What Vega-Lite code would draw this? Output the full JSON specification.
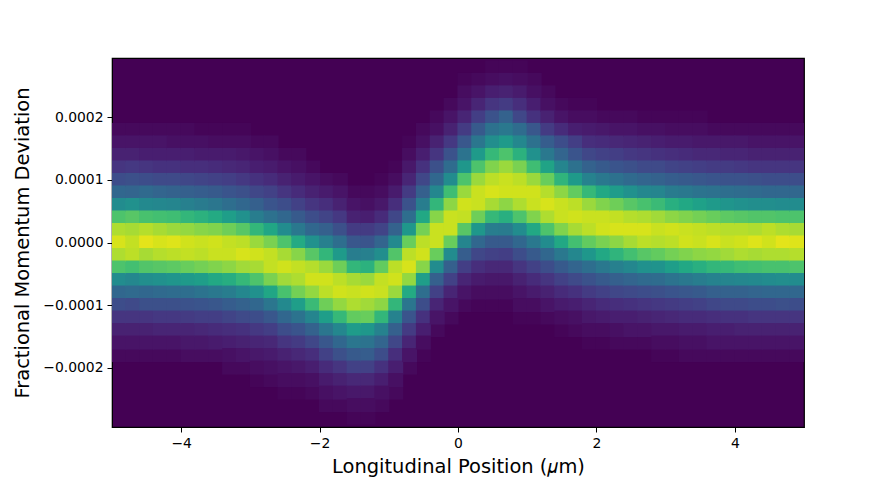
{"$schema":"https://vega.github.io/schema/vega-lite/v6.json","width":692,"height":369,"autosize":"none","padding":{"left":112,"top":58,"right":89,"bottom":53},"background":"white","config":{"view":{"fill":"#440154","stroke":"#000","strokeWidth":1.2},"font":"DejaVu Sans"},"data":{"values":[
{"x":-4.9,"y":1.8e-4,"c":2},{"x":-4.9,"y":-1.8e-4,"c":2},{"x":-4.7,"y":1.8e-4,"c":2},{"x":-4.7,"y":-1.8e-4,"c":2},{"x":-4.5,"y":1.8e-4,"c":2},{"x":-4.5,"y":-1.8e-4,"c":2},{"x":-4.3,"y":1.8e-4,"c":2},{"x":-4.3,"y":-1.8e-4,"c":2},{"x":-4.1,"y":1.8e-4,"c":2},{"x":-4.1,"y":-1.8e-4,"c":2},{"x":-3.9,"y":1.8e-4,"c":2},{"x":-3.9,"y":-1.8e-4,"c":3},{"x":-3.7,"y":1.8e-4,"c":1},{"x":-3.7,"y":-1.8e-4,"c":3},{"x":-3.5,"y":1.8e-4,"c":1},{"x":-3.5,"y":-1.8e-4,"c":3},{"x":-3.3,"y":1.8e-4,"c":1},{"x":-3.3,"y":-2e-4,"c":2},{"x":-3.1,"y":-2e-4,"c":2},{"x":-3.1,"y":1.8e-4,"c":1},{"x":-2.9,"y":1.6e-4,"c":2},{"x":-2.9,"y":-2.2e-4,"c":1},{"x":-2.7,"y":1.6e-4,"c":2},{"x":-2.7,"y":-2.2e-4,"c":2},{"x":-2.5,"y":1.4e-4,"c":2},{"x":-2.5,"y":-2.4e-4,"c":1},{"x":-2.3,"y":1.4e-4,"c":2},{"x":-2.3,"y":-2.4e-4,"c":1},{"x":-2.1,"y":1.2e-4,"c":2},{"x":-2.1,"y":-2.4e-4,"c":2},{"x":-1.9,"y":1e-4,"c":3},{"x":-1.9,"y":-2.6e-4,"c":2},{"x":-1.7,"y":1e-4,"c":2},{"x":-1.7,"y":-2.6e-4,"c":2},{"x":-1.5,"y":8e-5,"c":2},{"x":-1.5,"y":-2.8e-4,"c":1},{"x":-1.3,"y":8e-5,"c":2},{"x":-1.3,"y":-2.8e-4,"c":1},{"x":-1.1,"y":1e-4,"c":1},{"x":-1.1,"y":-2.6e-4,"c":2},{"x":-0.9,"y":1.2e-4,"c":1},{"x":-0.9,"y":-2.4e-4,"c":2},{"x":-0.7,"y":1.6e-4,"c":1},{"x":-0.7,"y":-2e-4,"c":2},{"x":-0.5,"y":1.8e-4,"c":2},{"x":-0.5,"y":-1.8e-4,"c":1},{"x":-0.3,"y":2e-4,"c":2},{"x":-0.3,"y":-1.4e-4,"c":2},{"x":-0.1,"y":2.2e-4,"c":2},{"x":-0.1,"y":-1.2e-4,"c":2},{"x":0.1,"y":2.6e-4,"c":1},{"x":0.1,"y":-1e-4,"c":2},{"x":0.3,"y":2.6e-4,"c":2},{"x":0.3,"y":-1e-4,"c":1},{"x":0.5,"y":2.8e-4,"c":1},{"x":0.5,"y":-1e-4,"c":1},{"x":0.7,"y":2.8e-4,"c":1},{"x":0.7,"y":-1e-4,"c":1},{"x":0.9,"y":2.8e-4,"c":1},{"x":0.9,"y":-1.2e-4,"c":1},{"x":1.1,"y":2.6e-4,"c":2},{"x":1.1,"y":-1.2e-4,"c":1},{"x":1.3,"y":2.4e-4,"c":2},{"x":1.3,"y":-1.2e-4,"c":2},{"x":1.5,"y":2.2e-4,"c":2},{"x":1.5,"y":-1.4e-4,"c":1},{"x":1.7,"y":2.2e-4,"c":1},{"x":1.7,"y":-1.4e-4,"c":2},{"x":1.9,"y":2.2e-4,"c":1},{"x":1.9,"y":-1.6e-4,"c":1},{"x":2.1,"y":2e-4,"c":2},{"x":2.1,"y":-1.6e-4,"c":1},{"x":2.3,"y":2e-4,"c":2},{"x":2.3,"y":-1.6e-4,"c":2},{"x":2.5,"y":2e-4,"c":2},{"x":2.5,"y":-1.6e-4,"c":2},{"x":2.7,"y":2e-4,"c":1},{"x":2.7,"y":-1.6e-4,"c":2},{"x":2.9,"y":2e-4,"c":1},{"x":2.9,"y":-1.8e-4,"c":1},{"x":3.1,"y":2e-4,"c":1},{"x":3.1,"y":-1.8e-4,"c":1},{"x":3.3,"y":2e-4,"c":1},{"x":3.3,"y":-1.8e-4,"c":2},{"x":3.5,"y":2e-4,"c":1},{"x":3.5,"y":-1.8e-4,"c":2},{"x":3.7,"y":1.8e-4,"c":2},{"x":3.7,"y":-1.8e-4,"c":2},{"x":3.9,"y":1.8e-4,"c":2},{"x":3.9,"y":-1.8e-4,"c":2},{"x":4.1,"y":1.8e-4,"c":2},{"x":4.1,"y":-1.8e-4,"c":2},{"x":4.3,"y":1.8e-4,"c":2},{"x":4.3,"y":-1.8e-4,"c":2},{"x":4.5,"y":1.8e-4,"c":2},{"x":4.5,"y":-1.8e-4,"c":2},{"x":4.7,"y":1.8e-4,"c":2},{"x":4.7,"y":-1.8e-4,"c":2},{"x":4.9,"y":1.8e-4,"c":2},{"x":4.9,"y":-1.8e-4,"c":2},
{"x":-4.9,"y":1.6e-4,"c":5},{"x":-4.9,"y":1.4e-4,"c":9},{"x":-4.9,"y":1.2e-4,"c":15},{"x":-4.9,"y":1e-4,"c":23},{"x":-4.9,"y":8e-5,"c":33},{"x":-4.9,"y":6e-5,"c":48},{"x":-4.9,"y":4e-5,"c":72},{"x":-4.9,"y":2e-5,"c":88},{"x":-4.9,"y":0,"c":94},{"x":-4.9,"y":-2e-5,"c":88},{"x":-4.9,"y":-4e-5,"c":72},{"x":-4.9,"y":-6e-5,"c":48},{"x":-4.9,"y":-8e-5,"c":33},{"x":-4.9,"y":-1e-4,"c":23},{"x":-4.9,"y":-1.2e-4,"c":15},{"x":-4.9,"y":-1.4e-4,"c":9},{"x":-4.9,"y":-1.6e-4,"c":5},
{"x":-4.7,"y":1.6e-4,"c":5},{"x":-4.7,"y":1.4e-4,"c":9},{"x":-4.7,"y":1.2e-4,"c":16},{"x":-4.7,"y":1e-4,"c":24},{"x":-4.7,"y":8e-5,"c":32},{"x":-4.7,"y":6e-5,"c":50},{"x":-4.7,"y":4e-5,"c":74},{"x":-4.7,"y":2e-5,"c":87},{"x":-4.7,"y":0,"c":91},{"x":-4.7,"y":-2e-5,"c":90},{"x":-4.7,"y":-4e-5,"c":70},{"x":-4.7,"y":-6e-5,"c":46},{"x":-4.7,"y":-8e-5,"c":34},{"x":-4.7,"y":-1e-4,"c":22},{"x":-4.7,"y":-1.2e-4,"c":15},{"x":-4.7,"y":-1.4e-4,"c":9},{"x":-4.7,"y":-1.6e-4,"c":5},
{"x":-4.5,"y":1.6e-4,"c":5},{"x":-4.5,"y":1.4e-4,"c":8},{"x":-4.5,"y":1.2e-4,"c":15},{"x":-4.5,"y":1e-4,"c":23},{"x":-4.5,"y":8e-5,"c":34},{"x":-4.5,"y":6e-5,"c":47},{"x":-4.5,"y":4e-5,"c":71},{"x":-4.5,"y":2e-5,"c":89},{"x":-4.5,"y":0,"c":96},{"x":-4.5,"y":-2e-5,"c":87},{"x":-4.5,"y":-4e-5,"c":73},{"x":-4.5,"y":-6e-5,"c":49},{"x":-4.5,"y":-8e-5,"c":33},{"x":-4.5,"y":-1e-4,"c":24},{"x":-4.5,"y":-1.2e-4,"c":15},{"x":-4.5,"y":-1.4e-4,"c":9},{"x":-4.5,"y":-1.6e-4,"c":5},
{"x":-4.3,"y":1.6e-4,"c":5},{"x":-4.3,"y":1.4e-4,"c":8},{"x":-4.3,"y":1.2e-4,"c":14},{"x":-4.3,"y":1e-4,"c":22},{"x":-4.3,"y":8e-5,"c":32},{"x":-4.3,"y":6e-5,"c":46},{"x":-4.3,"y":4e-5,"c":70},{"x":-4.3,"y":2e-5,"c":87},{"x":-4.3,"y":0,"c":94},{"x":-4.3,"y":-2e-5,"c":89},{"x":-4.3,"y":-4e-5,"c":74},{"x":-4.3,"y":-6e-5,"c":50},{"x":-4.3,"y":-8e-5,"c":34},{"x":-4.3,"y":-1e-4,"c":24},{"x":-4.3,"y":-1.2e-4,"c":16},{"x":-4.3,"y":-1.4e-4,"c":10},{"x":-4.3,"y":-1.6e-4,"c":5},
{"x":-4.1,"y":1.6e-4,"c":4},{"x":-4.1,"y":1.4e-4,"c":8},{"x":-4.1,"y":1.2e-4,"c":14},{"x":-4.1,"y":1e-4,"c":22},{"x":-4.1,"y":8e-5,"c":31},{"x":-4.1,"y":6e-5,"c":45},{"x":-4.1,"y":4e-5,"c":69},{"x":-4.1,"y":2e-5,"c":85},{"x":-4.1,"y":0,"c":95},{"x":-4.1,"y":-2e-5,"c":90},{"x":-4.1,"y":-4e-5,"c":75},{"x":-4.1,"y":-6e-5,"c":52},{"x":-4.1,"y":-8e-5,"c":35},{"x":-4.1,"y":-1e-4,"c":24},{"x":-4.1,"y":-1.2e-4,"c":16},{"x":-4.1,"y":-1.4e-4,"c":10},{"x":-4.1,"y":-1.6e-4,"c":5},
{"x":-3.9,"y":1.6e-4,"c":4},{"x":-3.9,"y":1.4e-4,"c":8},{"x":-3.9,"y":1.2e-4,"c":13},{"x":-3.9,"y":1e-4,"c":21},{"x":-3.9,"y":8e-5,"c":30},{"x":-3.9,"y":6e-5,"c":43},{"x":-3.9,"y":4e-5,"c":66},{"x":-3.9,"y":2e-5,"c":84},{"x":-3.9,"y":0,"c":93},{"x":-3.9,"y":-2e-5,"c":91},{"x":-3.9,"y":-4e-5,"c":77},{"x":-3.9,"y":-6e-5,"c":54},{"x":-3.9,"y":-8e-5,"c":36},{"x":-3.9,"y":-1e-4,"c":25},{"x":-3.9,"y":-1.2e-4,"c":17},{"x":-3.9,"y":-1.4e-4,"c":10},{"x":-3.9,"y":-1.6e-4,"c":6},
{"x":-3.7,"y":1.6e-4,"c":4},{"x":-3.7,"y":1.4e-4,"c":7},{"x":-3.7,"y":1.2e-4,"c":13},{"x":-3.7,"y":1e-4,"c":20},{"x":-3.7,"y":8e-5,"c":29},{"x":-3.7,"y":6e-5,"c":41},{"x":-3.7,"y":4e-5,"c":64},{"x":-3.7,"y":2e-5,"c":82},{"x":-3.7,"y":0,"c":92},{"x":-3.7,"y":-2e-5,"c":90},{"x":-3.7,"y":-4e-5,"c":79},{"x":-3.7,"y":-6e-5,"c":56},{"x":-3.7,"y":-8e-5,"c":38},{"x":-3.7,"y":-1e-4,"c":26},{"x":-3.7,"y":-1.2e-4,"c":18},{"x":-3.7,"y":-1.4e-4,"c":11},{"x":-3.7,"y":-1.6e-4,"c":6},
{"x":-3.5,"y":1.6e-4,"c":3},{"x":-3.5,"y":1.4e-4,"c":7},{"x":-3.5,"y":1.2e-4,"c":12},{"x":-3.5,"y":1e-4,"c":19},{"x":-3.5,"y":8e-5,"c":28},{"x":-3.5,"y":6e-5,"c":39},{"x":-3.5,"y":4e-5,"c":61},{"x":-3.5,"y":2e-5,"c":81},{"x":-3.5,"y":0,"c":93},{"x":-3.5,"y":-2e-5,"c":92},{"x":-3.5,"y":-4e-5,"c":81},{"x":-3.5,"y":-6e-5,"c":60},{"x":-3.5,"y":-8e-5,"c":40},{"x":-3.5,"y":-1e-4,"c":27},{"x":-3.5,"y":-1.2e-4,"c":18},{"x":-3.5,"y":-1.4e-4,"c":12},{"x":-3.5,"y":-1.6e-4,"c":7},
{"x":-3.3,"y":1.6e-4,"c":3},{"x":-3.3,"y":1.4e-4,"c":7},{"x":-3.3,"y":1.2e-4,"c":11},{"x":-3.3,"y":1e-4,"c":18},{"x":-3.3,"y":8e-5,"c":26},{"x":-3.3,"y":6e-5,"c":36},{"x":-3.3,"y":4e-5,"c":56},{"x":-3.3,"y":2e-5,"c":78},{"x":-3.3,"y":0,"c":91},{"x":-3.3,"y":-2e-5,"c":92},{"x":-3.3,"y":-4e-5,"c":83},{"x":-3.3,"y":-6e-5,"c":62},{"x":-3.3,"y":-8e-5,"c":42},{"x":-3.3,"y":-1e-4,"c":29},{"x":-3.3,"y":-1.2e-4,"c":20},{"x":-3.3,"y":-1.4e-4,"c":13},{"x":-3.3,"y":-1.6e-4,"c":8},{"x":-3.3,"y":-1.8e-4,"c":4},
{"x":-3.1,"y":1.6e-4,"c":3},{"x":-3.1,"y":1.4e-4,"c":6},{"x":-3.1,"y":1.2e-4,"c":10},{"x":-3.1,"y":1e-4,"c":16},{"x":-3.1,"y":8e-5,"c":24},{"x":-3.1,"y":6e-5,"c":33},{"x":-3.1,"y":4e-5,"c":50},{"x":-3.1,"y":2e-5,"c":74},{"x":-3.1,"y":0,"c":90},{"x":-3.1,"y":-2e-5,"c":94},{"x":-3.1,"y":-4e-5,"c":86},{"x":-3.1,"y":-6e-5,"c":67},{"x":-3.1,"y":-8e-5,"c":46},{"x":-3.1,"y":-1e-4,"c":31},{"x":-3.1,"y":-1.2e-4,"c":22},{"x":-3.1,"y":-1.4e-4,"c":14},{"x":-3.1,"y":-1.6e-4,"c":9},{"x":-3.1,"y":-1.8e-4,"c":5},
{"x":-2.9,"y":1.4e-4,"c":5},{"x":-2.9,"y":1.2e-4,"c":8},{"x":-2.9,"y":1e-4,"c":14},{"x":-2.9,"y":8e-5,"c":21},{"x":-2.9,"y":6e-5,"c":30},{"x":-2.9,"y":4e-5,"c":42},{"x":-2.9,"y":2e-5,"c":66},{"x":-2.9,"y":0,"c":85},{"x":-2.9,"y":-2e-5,"c":93},{"x":-2.9,"y":-4e-5,"c":87},{"x":-2.9,"y":-6e-5,"c":72},{"x":-2.9,"y":-8e-5,"c":50},{"x":-2.9,"y":-1e-4,"c":33},{"x":-2.9,"y":-1.2e-4,"c":23},{"x":-2.9,"y":-1.4e-4,"c":16},{"x":-2.9,"y":-1.6e-4,"c":10},{"x":-2.9,"y":-1.8e-4,"c":6},{"x":-2.9,"y":-2e-4,"c":3},
{"x":-2.7,"y":1.4e-4,"c":4},{"x":-2.7,"y":1.2e-4,"c":7},{"x":-2.7,"y":1e-4,"c":12},{"x":-2.7,"y":8e-5,"c":19},{"x":-2.7,"y":6e-5,"c":26},{"x":-2.7,"y":4e-5,"c":37},{"x":-2.7,"y":2e-5,"c":59},{"x":-2.7,"y":0,"c":80},{"x":-2.7,"y":-2e-5,"c":91},{"x":-2.7,"y":-4e-5,"c":91},{"x":-2.7,"y":-6e-5,"c":80},{"x":-2.7,"y":-8e-5,"c":59},{"x":-2.7,"y":-1e-4,"c":39},{"x":-2.7,"y":-1.2e-4,"c":27},{"x":-2.7,"y":-1.4e-4,"c":18},{"x":-2.7,"y":-1.6e-4,"c":11},{"x":-2.7,"y":-1.8e-4,"c":7},{"x":-2.7,"y":-2e-4,"c":4},
{"x":-2.5,"y":1.2e-4,"c":5},{"x":-2.5,"y":1e-4,"c":9},{"x":-2.5,"y":8e-5,"c":15},{"x":-2.5,"y":6e-5,"c":23},{"x":-2.5,"y":4e-5,"c":33},{"x":-2.5,"y":2e-5,"c":48},{"x":-2.5,"y":0,"c":72},{"x":-2.5,"y":-2e-5,"c":87},{"x":-2.5,"y":-4e-5,"c":93},{"x":-2.5,"y":-6e-5,"c":86},{"x":-2.5,"y":-8e-5,"c":71},{"x":-2.5,"y":-1e-4,"c":47},{"x":-2.5,"y":-1.2e-4,"c":33},{"x":-2.5,"y":-1.4e-4,"c":23},{"x":-2.5,"y":-1.6e-4,"c":15},{"x":-2.5,"y":-1.8e-4,"c":9},{"x":-2.5,"y":-2e-4,"c":5},{"x":-2.5,"y":-2.2e-4,"c":3},
{"x":-2.3,"y":1.2e-4,"c":4},{"x":-2.3,"y":1e-4,"c":7},{"x":-2.3,"y":8e-5,"c":12},{"x":-2.3,"y":6e-5,"c":19},{"x":-2.3,"y":4e-5,"c":28},{"x":-2.3,"y":2e-5,"c":40},{"x":-2.3,"y":0,"c":61},{"x":-2.3,"y":-2e-5,"c":82},{"x":-2.3,"y":-4e-5,"c":91},{"x":-2.3,"y":-6e-5,"c":88},{"x":-2.3,"y":-8e-5,"c":79},{"x":-2.3,"y":-1e-4,"c":56},{"x":-2.3,"y":-1.2e-4,"c":38},{"x":-2.3,"y":-1.4e-4,"c":26},{"x":-2.3,"y":-1.6e-4,"c":17},{"x":-2.3,"y":-1.8e-4,"c":11},{"x":-2.3,"y":-2e-4,"c":6},{"x":-2.3,"y":-2.2e-4,"c":3},
{"x":-2.1,"y":1e-4,"c":5},{"x":-2.1,"y":8e-5,"c":9},{"x":-2.1,"y":6e-5,"c":15},{"x":-2.1,"y":4e-5,"c":23},{"x":-2.1,"y":2e-5,"c":33},{"x":-2.1,"y":0,"c":50},{"x":-2.1,"y":-2e-5,"c":74},{"x":-2.1,"y":-4e-5,"c":89},{"x":-2.1,"y":-6e-5,"c":93},{"x":-2.1,"y":-8e-5,"c":84},{"x":-2.1,"y":-1e-4,"c":68},{"x":-2.1,"y":-1.2e-4,"c":45},{"x":-2.1,"y":-1.4e-4,"c":31},{"x":-2.1,"y":-1.6e-4,"c":21},{"x":-2.1,"y":-1.8e-4,"c":13},{"x":-2.1,"y":-2e-4,"c":8},{"x":-2.1,"y":-2.2e-4,"c":4},
{"x":-1.9,"y":8e-5,"c":7},{"x":-1.9,"y":6e-5,"c":13},{"x":-1.9,"y":4e-5,"c":20},{"x":-1.9,"y":2e-5,"c":30},{"x":-1.9,"y":0,"c":43},{"x":-1.9,"y":-2e-5,"c":66},{"x":-1.9,"y":-4e-5,"c":85},{"x":-1.9,"y":-6e-5,"c":93},{"x":-1.9,"y":-8e-5,"c":90},{"x":-1.9,"y":-1e-4,"c":78},{"x":-1.9,"y":-1.2e-4,"c":56},{"x":-1.9,"y":-1.4e-4,"c":39},{"x":-1.9,"y":-1.6e-4,"c":27},{"x":-1.9,"y":-1.8e-4,"c":19},{"x":-1.9,"y":-2e-4,"c":12},{"x":-1.9,"y":-2.2e-4,"c":7},{"x":-1.9,"y":-2.4e-4,"c":4},
{"x":-1.7,"y":8e-5,"c":5},{"x":-1.7,"y":6e-5,"c":9},{"x":-1.7,"y":4e-5,"c":16},{"x":-1.7,"y":2e-5,"c":24},{"x":-1.7,"y":0,"c":36},{"x":-1.7,"y":-2e-5,"c":54},{"x":-1.7,"y":-4e-5,"c":78},{"x":-1.7,"y":-6e-5,"c":90},{"x":-1.7,"y":-8e-5,"c":93},{"x":-1.7,"y":-1e-4,"c":84},{"x":-1.7,"y":-1.2e-4,"c":67},{"x":-1.7,"y":-1.4e-4,"c":46},{"x":-1.7,"y":-1.6e-4,"c":33},{"x":-1.7,"y":-1.8e-4,"c":24},{"x":-1.7,"y":-2e-4,"c":15},{"x":-1.7,"y":-2.2e-4,"c":9},{"x":-1.7,"y":-2.4e-4,"c":5},
{"x":-1.5,"y":6e-5,"c":5},{"x":-1.5,"y":4e-5,"c":9},{"x":-1.5,"y":2e-5,"c":17},{"x":-1.5,"y":0,"c":27},{"x":-1.5,"y":-2e-5,"c":42},{"x":-1.5,"y":-4e-5,"c":66},{"x":-1.5,"y":-6e-5,"c":87},{"x":-1.5,"y":-8e-5,"c":92},{"x":-1.5,"y":-1e-4,"c":88},{"x":-1.5,"y":-1.2e-4,"c":76},{"x":-1.5,"y":-1.4e-4,"c":55},{"x":-1.5,"y":-1.6e-4,"c":39},{"x":-1.5,"y":-1.8e-4,"c":28},{"x":-1.5,"y":-2e-4,"c":19},{"x":-1.5,"y":-2.2e-4,"c":11},{"x":-1.5,"y":-2.4e-4,"c":6},{"x":-1.5,"y":-2.6e-4,"c":3},
{"x":-1.3,"y":6e-5,"c":4},{"x":-1.3,"y":4e-5,"c":8},{"x":-1.3,"y":2e-5,"c":17},{"x":-1.3,"y":0,"c":26},{"x":-1.3,"y":-2e-5,"c":43},{"x":-1.3,"y":-4e-5,"c":64},{"x":-1.3,"y":-6e-5,"c":85},{"x":-1.3,"y":-8e-5,"c":93},{"x":-1.3,"y":-1e-4,"c":86},{"x":-1.3,"y":-1.2e-4,"c":77},{"x":-1.3,"y":-1.4e-4,"c":53},{"x":-1.3,"y":-1.6e-4,"c":38},{"x":-1.3,"y":-1.8e-4,"c":29},{"x":-1.3,"y":-2e-4,"c":19},{"x":-1.3,"y":-2.2e-4,"c":11},{"x":-1.3,"y":-2.4e-4,"c":6},{"x":-1.3,"y":-2.6e-4,"c":3},
{"x":-1.1,"y":8e-5,"c":3},{"x":-1.1,"y":6e-5,"c":6},{"x":-1.1,"y":4e-5,"c":12},{"x":-1.1,"y":2e-5,"c":20},{"x":-1.1,"y":0,"c":32},{"x":-1.1,"y":-2e-5,"c":49},{"x":-1.1,"y":-4e-5,"c":76},{"x":-1.1,"y":-6e-5,"c":91},{"x":-1.1,"y":-8e-5,"c":92},{"x":-1.1,"y":-1e-4,"c":83},{"x":-1.1,"y":-1.2e-4,"c":66},{"x":-1.1,"y":-1.4e-4,"c":44},{"x":-1.1,"y":-1.6e-4,"c":32},{"x":-1.1,"y":-1.8e-4,"c":23},{"x":-1.1,"y":-2e-4,"c":14},{"x":-1.1,"y":-2.2e-4,"c":8},{"x":-1.1,"y":-2.4e-4,"c":4},
{"x":-0.9,"y":1e-4,"c":3},{"x":-0.9,"y":8e-5,"c":7},{"x":-0.9,"y":6e-5,"c":13},{"x":-0.9,"y":4e-5,"c":21},{"x":-0.9,"y":2e-5,"c":31},{"x":-0.9,"y":0,"c":47},{"x":-0.9,"y":-2e-5,"c":73},{"x":-0.9,"y":-4e-5,"c":90},{"x":-0.9,"y":-6e-5,"c":93},{"x":-0.9,"y":-8e-5,"c":85},{"x":-0.9,"y":-1e-4,"c":66},{"x":-0.9,"y":-1.2e-4,"c":44},{"x":-0.9,"y":-1.4e-4,"c":30},{"x":-0.9,"y":-1.6e-4,"c":21},{"x":-0.9,"y":-1.8e-4,"c":13},{"x":-0.9,"y":-2e-4,"c":8},{"x":-0.9,"y":-2.2e-4,"c":4},
{"x":-0.7,"y":1.4e-4,"c":3},{"x":-0.7,"y":1.2e-4,"c":6},{"x":-0.7,"y":1e-4,"c":10},{"x":-0.7,"y":8e-5,"c":17},{"x":-0.7,"y":6e-5,"c":25},{"x":-0.7,"y":4e-5,"c":36},{"x":-0.7,"y":2e-5,"c":53},{"x":-0.7,"y":0,"c":77},{"x":-0.7,"y":-2e-5,"c":90},{"x":-0.7,"y":-4e-5,"c":94},{"x":-0.7,"y":-6e-5,"c":84},{"x":-0.7,"y":-8e-5,"c":61},{"x":-0.7,"y":-1e-4,"c":39},{"x":-0.7,"y":-1.2e-4,"c":26},{"x":-0.7,"y":-1.4e-4,"c":17},{"x":-0.7,"y":-1.6e-4,"c":10},{"x":-0.7,"y":-1.8e-4,"c":5},
{"x":-0.5,"y":1.6e-4,"c":4},{"x":-0.5,"y":1.4e-4,"c":8},{"x":-0.5,"y":1.2e-4,"c":14},{"x":-0.5,"y":1e-4,"c":21},{"x":-0.5,"y":8e-5,"c":30},{"x":-0.5,"y":6e-5,"c":42},{"x":-0.5,"y":4e-5,"c":60},{"x":-0.5,"y":2e-5,"c":79},{"x":-0.5,"y":0,"c":90},{"x":-0.5,"y":-2e-5,"c":93},{"x":-0.5,"y":-4e-5,"c":82},{"x":-0.5,"y":-6e-5,"c":56},{"x":-0.5,"y":-8e-5,"c":36},{"x":-0.5,"y":-1e-4,"c":23},{"x":-0.5,"y":-1.2e-4,"c":14},{"x":-0.5,"y":-1.4e-4,"c":8},{"x":-0.5,"y":-1.6e-4,"c":3},
{"x":-0.3,"y":1.8e-4,"c":4},{"x":-0.3,"y":1.6e-4,"c":9},{"x":-0.3,"y":1.4e-4,"c":15},{"x":-0.3,"y":1.2e-4,"c":24},{"x":-0.3,"y":1e-4,"c":33},{"x":-0.3,"y":8e-5,"c":46},{"x":-0.3,"y":6e-5,"c":66},{"x":-0.3,"y":4e-5,"c":82},{"x":-0.3,"y":2e-5,"c":92},{"x":-0.3,"y":0,"c":92},{"x":-0.3,"y":-2e-5,"c":77},{"x":-0.3,"y":-4e-5,"c":48},{"x":-0.3,"y":-6e-5,"c":30},{"x":-0.3,"y":-8e-5,"c":19},{"x":-0.3,"y":-1e-4,"c":10},{"x":-0.3,"y":-1.2e-4,"c":5},
{"x":-0.1,"y":2e-4,"c":5},{"x":-0.1,"y":1.8e-4,"c":9},{"x":-0.1,"y":1.6e-4,"c":16},{"x":-0.1,"y":1.4e-4,"c":25},{"x":-0.1,"y":1.2e-4,"c":35},{"x":-0.1,"y":1e-4,"c":48},{"x":-0.1,"y":8e-5,"c":69},{"x":-0.1,"y":6e-5,"c":83},{"x":-0.1,"y":4e-5,"c":92},{"x":-0.1,"y":2e-5,"c":92},{"x":-0.1,"y":0,"c":77},{"x":-0.1,"y":-2e-5,"c":48},{"x":-0.1,"y":-4e-5,"c":30},{"x":-0.1,"y":-6e-5,"c":19},{"x":-0.1,"y":-8e-5,"c":10},{"x":-0.1,"y":-1e-4,"c":5},
{"x":0.1,"y":2.4e-4,"c":3},{"x":0.1,"y":2.2e-4,"c":5},{"x":0.1,"y":2e-4,"c":10},{"x":0.1,"y":1.8e-4,"c":17},{"x":0.1,"y":1.6e-4,"c":27},{"x":0.1,"y":1.4e-4,"c":38},{"x":0.1,"y":1.2e-4,"c":53},{"x":0.1,"y":1e-4,"c":72},{"x":0.1,"y":8e-5,"c":85},{"x":0.1,"y":6e-5,"c":93},{"x":0.1,"y":4e-5,"c":91},{"x":0.1,"y":2e-5,"c":74},{"x":0.1,"y":0,"c":45},{"x":0.1,"y":-2e-5,"c":29},{"x":0.1,"y":-4e-5,"c":18},{"x":0.1,"y":-6e-5,"c":10},{"x":0.1,"y":-8e-5,"c":5},
{"x":0.3,"y":2.4e-4,"c":5},{"x":0.3,"y":2.2e-4,"c":10},{"x":0.3,"y":2e-4,"c":18},{"x":0.3,"y":1.8e-4,"c":28},{"x":0.3,"y":1.6e-4,"c":39},{"x":0.3,"y":1.4e-4,"c":54},{"x":0.3,"y":1.2e-4,"c":72},{"x":0.3,"y":1e-4,"c":85},{"x":0.3,"y":8e-5,"c":92},{"x":0.3,"y":6e-5,"c":92},{"x":0.3,"y":4e-5,"c":78},{"x":0.3,"y":2e-5,"c":53},{"x":0.3,"y":0,"c":33},{"x":0.3,"y":-2e-5,"c":21},{"x":0.3,"y":-4e-5,"c":13},{"x":0.3,"y":-6e-5,"c":7},{"x":0.3,"y":-8e-5,"c":3},
{"x":0.5,"y":2.6e-4,"c":3},{"x":0.5,"y":2.4e-4,"c":8},{"x":0.5,"y":2.2e-4,"c":15},{"x":0.5,"y":2e-4,"c":25},{"x":0.5,"y":1.8e-4,"c":37},{"x":0.5,"y":1.6e-4,"c":49},{"x":0.5,"y":1.4e-4,"c":67},{"x":0.5,"y":1.2e-4,"c":81},{"x":0.5,"y":1e-4,"c":90},{"x":0.5,"y":8e-5,"c":94},{"x":0.5,"y":6e-5,"c":87},{"x":0.5,"y":4e-5,"c":67},{"x":0.5,"y":2e-5,"c":42},{"x":0.5,"y":0,"c":28},{"x":0.5,"y":-2e-5,"c":19},{"x":0.5,"y":-4e-5,"c":11},{"x":0.5,"y":-6e-5,"c":6},{"x":0.5,"y":-8e-5,"c":3},
{"x":0.7,"y":2.6e-4,"c":4},{"x":0.7,"y":2.4e-4,"c":9},{"x":0.7,"y":2.2e-4,"c":17},{"x":0.7,"y":2e-4,"c":31},{"x":0.7,"y":1.8e-4,"c":40},{"x":0.7,"y":1.6e-4,"c":54},{"x":0.7,"y":1.4e-4,"c":72},{"x":0.7,"y":1.2e-4,"c":85},{"x":0.7,"y":1e-4,"c":92},{"x":0.7,"y":8e-5,"c":93},{"x":0.7,"y":6e-5,"c":83},{"x":0.7,"y":4e-5,"c":63},{"x":0.7,"y":2e-5,"c":41},{"x":0.7,"y":0,"c":28},{"x":0.7,"y":-2e-5,"c":18},{"x":0.7,"y":-4e-5,"c":11},{"x":0.7,"y":-6e-5,"c":6},{"x":0.7,"y":-8e-5,"c":3},
{"x":0.9,"y":2.6e-4,"c":3},{"x":0.9,"y":2.4e-4,"c":7},{"x":0.9,"y":2.2e-4,"c":13},{"x":0.9,"y":2e-4,"c":21},{"x":0.9,"y":1.8e-4,"c":35},{"x":0.9,"y":1.6e-4,"c":46},{"x":0.9,"y":1.4e-4,"c":64},{"x":0.9,"y":1.2e-4,"c":80},{"x":0.9,"y":1e-4,"c":90},{"x":0.9,"y":8e-5,"c":93},{"x":0.9,"y":6e-5,"c":88},{"x":0.9,"y":4e-5,"c":72},{"x":0.9,"y":2e-5,"c":48},{"x":0.9,"y":0,"c":33},{"x":0.9,"y":-2e-5,"c":23},{"x":0.9,"y":-4e-5,"c":15},{"x":0.9,"y":-6e-5,"c":9},{"x":0.9,"y":-8e-5,"c":5},{"x":0.9,"y":-1e-4,"c":3},
{"x":1.1,"y":2.4e-4,"c":4},{"x":1.1,"y":2.2e-4,"c":8},{"x":1.1,"y":2e-4,"c":14},{"x":1.1,"y":1.8e-4,"c":27},{"x":1.1,"y":1.6e-4,"c":37},{"x":1.1,"y":1.4e-4,"c":50},{"x":1.1,"y":1.2e-4,"c":69},{"x":1.1,"y":1e-4,"c":85},{"x":1.1,"y":8e-5,"c":93},{"x":1.1,"y":6e-5,"c":92},{"x":1.1,"y":4e-5,"c":81},{"x":1.1,"y":2e-5,"c":60},{"x":1.1,"y":0,"c":40},{"x":1.1,"y":-2e-5,"c":28},{"x":1.1,"y":-4e-5,"c":19},{"x":1.1,"y":-6e-5,"c":12},{"x":1.1,"y":-8e-5,"c":7},{"x":1.1,"y":-1e-4,"c":3},
{"x":1.3,"y":2.2e-4,"c":4},{"x":1.3,"y":2e-4,"c":9},{"x":1.3,"y":1.8e-4,"c":17},{"x":1.3,"y":1.6e-4,"c":29},{"x":1.3,"y":1.4e-4,"c":40},{"x":1.3,"y":1.2e-4,"c":58},{"x":1.3,"y":1e-4,"c":77},{"x":1.3,"y":8e-5,"c":89},{"x":1.3,"y":6e-5,"c":94},{"x":1.3,"y":4e-5,"c":88},{"x":1.3,"y":2e-5,"c":72},{"x":1.3,"y":0,"c":48},{"x":1.3,"y":-2e-5,"c":33},{"x":1.3,"y":-4e-5,"c":23},{"x":1.3,"y":-6e-5,"c":15},{"x":1.3,"y":-8e-5,"c":9},{"x":1.3,"y":-1e-4,"c":5},
{"x":1.5,"y":2e-4,"c":5},{"x":1.5,"y":1.8e-4,"c":12},{"x":1.5,"y":1.6e-4,"c":23},{"x":1.5,"y":1.4e-4,"c":32},{"x":1.5,"y":1.2e-4,"c":45},{"x":1.5,"y":1e-4,"c":65},{"x":1.5,"y":8e-5,"c":83},{"x":1.5,"y":6e-5,"c":92},{"x":1.5,"y":4e-5,"c":92},{"x":1.5,"y":2e-5,"c":81},{"x":1.5,"y":0,"c":60},{"x":1.5,"y":-2e-5,"c":40},{"x":1.5,"y":-4e-5,"c":28},{"x":1.5,"y":-6e-5,"c":19},{"x":1.5,"y":-8e-5,"c":12},{"x":1.5,"y":-1e-4,"c":7},{"x":1.5,"y":-1.2e-4,"c":3},
{"x":1.7,"y":2e-4,"c":3},{"x":1.7,"y":1.8e-4,"c":8},{"x":1.7,"y":1.6e-4,"c":18},{"x":1.7,"y":1.4e-4,"c":26},{"x":1.7,"y":1.2e-4,"c":37},{"x":1.7,"y":1e-4,"c":54},{"x":1.7,"y":8e-5,"c":76},{"x":1.7,"y":6e-5,"c":90},{"x":1.7,"y":4e-5,"c":93},{"x":1.7,"y":2e-5,"c":87},{"x":1.7,"y":0,"c":70},{"x":1.7,"y":-2e-5,"c":46},{"x":1.7,"y":-4e-5,"c":32},{"x":1.7,"y":-6e-5,"c":22},{"x":1.7,"y":-8e-5,"c":14},{"x":1.7,"y":-1e-4,"c":8},{"x":1.7,"y":-1.2e-4,"c":4},
{"x":1.9,"y":2e-4,"c":3},{"x":1.9,"y":1.8e-4,"c":7},{"x":1.9,"y":1.6e-4,"c":13},{"x":1.9,"y":1.4e-4,"c":21},{"x":1.9,"y":1.2e-4,"c":31},{"x":1.9,"y":1e-4,"c":44},{"x":1.9,"y":8e-5,"c":67},{"x":1.9,"y":6e-5,"c":85},{"x":1.9,"y":4e-5,"c":92},{"x":1.9,"y":2e-5,"c":90},{"x":1.9,"y":0,"c":76},{"x":1.9,"y":-2e-5,"c":53},{"x":1.9,"y":-4e-5,"c":36},{"x":1.9,"y":-6e-5,"c":25},{"x":1.9,"y":-8e-5,"c":17},{"x":1.9,"y":-1e-4,"c":10},{"x":1.9,"y":-1.2e-4,"c":6},{"x":1.9,"y":-1.4e-4,"c":3},
{"x":2.1,"y":1.8e-4,"c":6},{"x":2.1,"y":1.6e-4,"c":12},{"x":2.1,"y":1.4e-4,"c":19},{"x":2.1,"y":1.2e-4,"c":28},{"x":2.1,"y":1e-4,"c":40},{"x":2.1,"y":8e-5,"c":60},{"x":2.1,"y":6e-5,"c":81},{"x":2.1,"y":4e-5,"c":92},{"x":2.1,"y":2e-5,"c":93},{"x":2.1,"y":0,"c":80},{"x":2.1,"y":-2e-5,"c":60},{"x":2.1,"y":-4e-5,"c":40},{"x":2.1,"y":-6e-5,"c":28},{"x":2.1,"y":-8e-5,"c":19},{"x":2.1,"y":-1e-4,"c":12},{"x":2.1,"y":-1.2e-4,"c":7},{"x":2.1,"y":-1.4e-4,"c":3},
{"x":2.3,"y":1.8e-4,"c":5},{"x":2.3,"y":1.6e-4,"c":11},{"x":2.3,"y":1.4e-4,"c":18},{"x":2.3,"y":1.2e-4,"c":26},{"x":2.3,"y":1e-4,"c":37},{"x":2.3,"y":8e-5,"c":55},{"x":2.3,"y":6e-5,"c":78},{"x":2.3,"y":4e-5,"c":91},{"x":2.3,"y":2e-5,"c":94},{"x":2.3,"y":0,"c":83},{"x":2.3,"y":-2e-5,"c":65},{"x":2.3,"y":-4e-5,"c":43},{"x":2.3,"y":-6e-5,"c":30},{"x":2.3,"y":-8e-5,"c":21},{"x":2.3,"y":-1e-4,"c":13},{"x":2.3,"y":-1.2e-4,"c":8},{"x":2.3,"y":-1.4e-4,"c":4},
{"x":2.5,"y":1.8e-4,"c":5},{"x":2.5,"y":1.6e-4,"c":10},{"x":2.5,"y":1.4e-4,"c":16},{"x":2.5,"y":1.2e-4,"c":24},{"x":2.5,"y":1e-4,"c":34},{"x":2.5,"y":8e-5,"c":50},{"x":2.5,"y":6e-5,"c":74},{"x":2.5,"y":4e-5,"c":89},{"x":2.5,"y":2e-5,"c":94},{"x":2.5,"y":0,"c":87},{"x":2.5,"y":-2e-5,"c":70},{"x":2.5,"y":-4e-5,"c":46},{"x":2.5,"y":-6e-5,"c":32},{"x":2.5,"y":-8e-5,"c":22},{"x":2.5,"y":-1e-4,"c":14},{"x":2.5,"y":-1.2e-4,"c":8},{"x":2.5,"y":-1.4e-4,"c":5},
{"x":2.7,"y":1.8e-4,"c":4},{"x":2.7,"y":1.6e-4,"c":9},{"x":2.7,"y":1.4e-4,"c":15},{"x":2.7,"y":1.2e-4,"c":22},{"x":2.7,"y":1e-4,"c":32},{"x":2.7,"y":8e-5,"c":46},{"x":2.7,"y":6e-5,"c":71},{"x":2.7,"y":4e-5,"c":88},{"x":2.7,"y":2e-5,"c":94},{"x":2.7,"y":0,"c":90},{"x":2.7,"y":-2e-5,"c":74},{"x":2.7,"y":-4e-5,"c":50},{"x":2.7,"y":-6e-5,"c":34},{"x":2.7,"y":-8e-5,"c":23},{"x":2.7,"y":-1e-4,"c":15},{"x":2.7,"y":-1.2e-4,"c":9},{"x":2.7,"y":-1.4e-4,"c":5},
{"x":2.9,"y":1.8e-4,"c":4},{"x":2.9,"y":1.6e-4,"c":8},{"x":2.9,"y":1.4e-4,"c":14},{"x":2.9,"y":1.2e-4,"c":22},{"x":2.9,"y":1e-4,"c":31},{"x":2.9,"y":8e-5,"c":45},{"x":2.9,"y":6e-5,"c":68},{"x":2.9,"y":4e-5,"c":86},{"x":2.9,"y":2e-5,"c":92},{"x":2.9,"y":0,"c":89},{"x":2.9,"y":-2e-5,"c":76},{"x":2.9,"y":-4e-5,"c":51},{"x":2.9,"y":-6e-5,"c":35},{"x":2.9,"y":-8e-5,"c":24},{"x":2.9,"y":-1e-4,"c":16},{"x":2.9,"y":-1.2e-4,"c":10},{"x":2.9,"y":-1.4e-4,"c":6},{"x":2.9,"y":-1.6e-4,"c":3},
{"x":3.1,"y":1.8e-4,"c":3},{"x":3.1,"y":1.6e-4,"c":7},{"x":3.1,"y":1.4e-4,"c":13},{"x":3.1,"y":1.2e-4,"c":20},{"x":3.1,"y":1e-4,"c":29},{"x":3.1,"y":8e-5,"c":41},{"x":3.1,"y":6e-5,"c":63},{"x":3.1,"y":4e-5,"c":83},{"x":3.1,"y":2e-5,"c":93},{"x":3.1,"y":0,"c":90},{"x":3.1,"y":-2e-5,"c":79},{"x":3.1,"y":-4e-5,"c":56},{"x":3.1,"y":-6e-5,"c":38},{"x":3.1,"y":-8e-5,"c":26},{"x":3.1,"y":-1e-4,"c":17},{"x":3.1,"y":-1.2e-4,"c":11},{"x":3.1,"y":-1.4e-4,"c":6},{"x":3.1,"y":-1.6e-4,"c":3},
{"x":3.3,"y":1.8e-4,"c":3},{"x":3.3,"y":1.6e-4,"c":7},{"x":3.3,"y":1.4e-4,"c":12},{"x":3.3,"y":1.2e-4,"c":19},{"x":3.3,"y":1e-4,"c":28},{"x":3.3,"y":8e-5,"c":40},{"x":3.3,"y":6e-5,"c":60},{"x":3.3,"y":4e-5,"c":81},{"x":3.3,"y":2e-5,"c":92},{"x":3.3,"y":0,"c":93},{"x":3.3,"y":-2e-5,"c":81},{"x":3.3,"y":-4e-5,"c":60},{"x":3.3,"y":-6e-5,"c":40},{"x":3.3,"y":-8e-5,"c":27},{"x":3.3,"y":-1e-4,"c":18},{"x":3.3,"y":-1.2e-4,"c":12},{"x":3.3,"y":-1.4e-4,"c":7},{"x":3.3,"y":-1.6e-4,"c":4},
{"x":3.5,"y":1.8e-4,"c":3},{"x":3.5,"y":1.6e-4,"c":6},{"x":3.5,"y":1.4e-4,"c":11},{"x":3.5,"y":1.2e-4,"c":18},{"x":3.5,"y":1e-4,"c":27},{"x":3.5,"y":8e-5,"c":38},{"x":3.5,"y":6e-5,"c":57},{"x":3.5,"y":4e-5,"c":79},{"x":3.5,"y":2e-5,"c":91},{"x":3.5,"y":0,"c":92},{"x":3.5,"y":-2e-5,"c":83},{"x":3.5,"y":-4e-5,"c":63},{"x":3.5,"y":-6e-5,"c":42},{"x":3.5,"y":-8e-5,"c":28},{"x":3.5,"y":-1e-4,"c":19},{"x":3.5,"y":-1.2e-4,"c":12},{"x":3.5,"y":-1.4e-4,"c":7},{"x":3.5,"y":-1.6e-4,"c":4},
{"x":3.7,"y":1.6e-4,"c":6},{"x":3.7,"y":1.4e-4,"c":11},{"x":3.7,"y":1.2e-4,"c":17},{"x":3.7,"y":1e-4,"c":26},{"x":3.7,"y":8e-5,"c":37},{"x":3.7,"y":6e-5,"c":54},{"x":3.7,"y":4e-5,"c":77},{"x":3.7,"y":2e-5,"c":90},{"x":3.7,"y":0,"c":94},{"x":3.7,"y":-2e-5,"c":84},{"x":3.7,"y":-4e-5,"c":66},{"x":3.7,"y":-6e-5,"c":44},{"x":3.7,"y":-8e-5,"c":30},{"x":3.7,"y":-1e-4,"c":21},{"x":3.7,"y":-1.2e-4,"c":13},{"x":3.7,"y":-1.4e-4,"c":8},{"x":3.7,"y":-1.6e-4,"c":5},
{"x":3.9,"y":1.6e-4,"c":6},{"x":3.9,"y":1.4e-4,"c":10},{"x":3.9,"y":1.2e-4,"c":17},{"x":3.9,"y":1e-4,"c":25},{"x":3.9,"y":8e-5,"c":36},{"x":3.9,"y":6e-5,"c":52},{"x":3.9,"y":4e-5,"c":75},{"x":3.9,"y":2e-5,"c":89},{"x":3.9,"y":0,"c":92},{"x":3.9,"y":-2e-5,"c":86},{"x":3.9,"y":-4e-5,"c":67},{"x":3.9,"y":-6e-5,"c":45},{"x":3.9,"y":-8e-5,"c":31},{"x":3.9,"y":-1e-4,"c":22},{"x":3.9,"y":-1.2e-4,"c":14},{"x":3.9,"y":-1.4e-4,"c":8},{"x":3.9,"y":-1.6e-4,"c":5},
{"x":4.1,"y":1.6e-4,"c":6},{"x":4.1,"y":1.4e-4,"c":10},{"x":4.1,"y":1.2e-4,"c":16},{"x":4.1,"y":1e-4,"c":25},{"x":4.1,"y":8e-5,"c":35},{"x":4.1,"y":6e-5,"c":50},{"x":4.1,"y":4e-5,"c":74},{"x":4.1,"y":2e-5,"c":89},{"x":4.1,"y":0,"c":93},{"x":4.1,"y":-2e-5,"c":88},{"x":4.1,"y":-4e-5,"c":69},{"x":4.1,"y":-6e-5,"c":46},{"x":4.1,"y":-8e-5,"c":31},{"x":4.1,"y":-1e-4,"c":22},{"x":4.1,"y":-1.2e-4,"c":14},{"x":4.1,"y":-1.4e-4,"c":9},{"x":4.1,"y":-1.6e-4,"c":5},
{"x":4.3,"y":1.6e-4,"c":5},{"x":4.3,"y":1.4e-4,"c":9},{"x":4.3,"y":1.2e-4,"c":15},{"x":4.3,"y":1e-4,"c":24},{"x":4.3,"y":8e-5,"c":34},{"x":4.3,"y":6e-5,"c":49},{"x":4.3,"y":4e-5,"c":73},{"x":4.3,"y":2e-5,"c":88},{"x":4.3,"y":0,"c":95},{"x":4.3,"y":-2e-5,"c":87},{"x":4.3,"y":-4e-5,"c":70},{"x":4.3,"y":-6e-5,"c":47},{"x":4.3,"y":-8e-5,"c":32},{"x":4.3,"y":-1e-4,"c":23},{"x":4.3,"y":-1.2e-4,"c":15},{"x":4.3,"y":-1.4e-4,"c":9},{"x":4.3,"y":-1.6e-4,"c":5},
{"x":4.5,"y":1.6e-4,"c":5},{"x":4.5,"y":1.4e-4,"c":9},{"x":4.5,"y":1.2e-4,"c":15},{"x":4.5,"y":1e-4,"c":23},{"x":4.5,"y":8e-5,"c":33},{"x":4.5,"y":6e-5,"c":49},{"x":4.5,"y":4e-5,"c":73},{"x":4.5,"y":2e-5,"c":90},{"x":4.5,"y":0,"c":93},{"x":4.5,"y":-2e-5,"c":88},{"x":4.5,"y":-4e-5,"c":71},{"x":4.5,"y":-6e-5,"c":48},{"x":4.5,"y":-8e-5,"c":33},{"x":4.5,"y":-1e-4,"c":23},{"x":4.5,"y":-1.2e-4,"c":15},{"x":4.5,"y":-1.4e-4,"c":9},{"x":4.5,"y":-1.6e-4,"c":5},
{"x":4.7,"y":1.6e-4,"c":5},{"x":4.7,"y":1.4e-4,"c":9},{"x":4.7,"y":1.2e-4,"c":15},{"x":4.7,"y":1e-4,"c":23},{"x":4.7,"y":8e-5,"c":33},{"x":4.7,"y":6e-5,"c":48},{"x":4.7,"y":4e-5,"c":72},{"x":4.7,"y":2e-5,"c":88},{"x":4.7,"y":0,"c":96},{"x":4.7,"y":-2e-5,"c":88},{"x":4.7,"y":-4e-5,"c":71},{"x":4.7,"y":-6e-5,"c":49},{"x":4.7,"y":-8e-5,"c":33},{"x":4.7,"y":-1e-4,"c":24},{"x":4.7,"y":-1.2e-4,"c":15},{"x":4.7,"y":-1.4e-4,"c":9},{"x":4.7,"y":-1.6e-4,"c":5},
{"x":4.9,"y":1.6e-4,"c":5},{"x":4.9,"y":1.4e-4,"c":9},{"x":4.9,"y":1.2e-4,"c":15},{"x":4.9,"y":1e-4,"c":23},{"x":4.9,"y":8e-5,"c":33},{"x":4.9,"y":6e-5,"c":48},{"x":4.9,"y":4e-5,"c":72},{"x":4.9,"y":2e-5,"c":87},{"x":4.9,"y":0,"c":95},{"x":4.9,"y":-2e-5,"c":89},{"x":4.9,"y":-4e-5,"c":72},{"x":4.9,"y":-6e-5,"c":48},{"x":4.9,"y":-8e-5,"c":33},{"x":4.9,"y":-1e-4,"c":23},{"x":4.9,"y":-1.2e-4,"c":15},{"x":4.9,"y":-1.4e-4,"c":9},{"x":4.9,"y":-1.6e-4,"c":5}
]},"mark":{"type":"rect","width":15,"height":14,"clip":true},"encoding":{"x":{"field":"x","type":"quantitative","scale":{"domain":[-5,5],"nice":false,"zero":false},"axis":{"values":[-4,-2,0,2,4],"grid":false,"title":"Longitudinal Position (𝜇m)","titleFontSize":19.44,"titleFontWeight":"normal","titleColor":"#000","titlePadding":8,"labelFontSize":13.9,"labelColor":"#000","labelPadding":4,"tickSize":5,"tickColor":"#000","domainColor":"#000","labelFlush":false}},"y":{"field":"y","type":"quantitative","scale":{"domain":[-0.000295,0.000295],"nice":false,"zero":false},"axis":{"values":[-0.0002,-0.0001,0,0.0001,0.0002],"format":".4f","grid":false,"title":"Fractional Momentum Deviation","titleFontSize":19.44,"titleFontWeight":"normal","titleColor":"#000","titlePadding":10,"labelFontSize":13.9,"labelColor":"#000","labelPadding":4,"tickSize":5,"tickColor":"#000","domainColor":"#000"}},"color":{"field":"c","type":"quantitative","scale":{"scheme":"viridis","domain":[0,100]},"legend":null}}}
